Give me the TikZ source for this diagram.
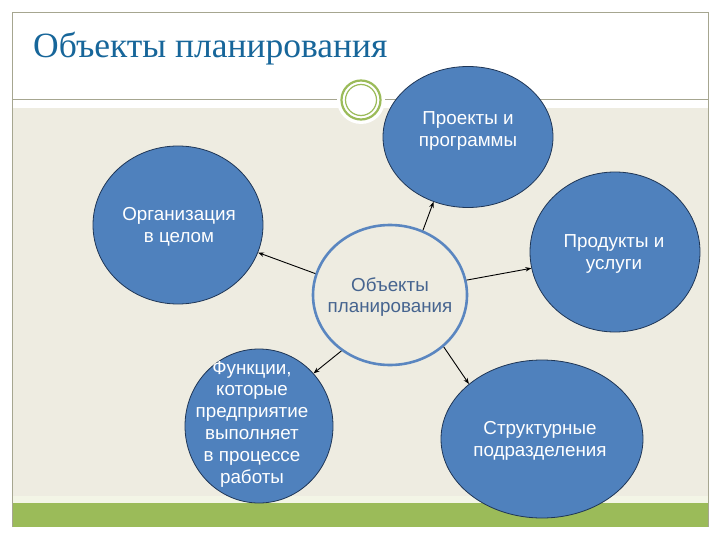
\documentclass[tikz,border=0pt]{standalone}
\usepackage{fontspec}
\setmainfont{Liberation Sans}
\newfontfamily\titlefont{Liberation Serif}
\usetikzlibrary{shapes.geometric,arrows.meta}
\definecolor{bluefill}{HTML}{4F81BD}
\definecolor{blueedge}{HTML}{1F3656}
\definecolor{beige}{HTML}{EEECE1}
\definecolor{olive}{HTML}{9BBB59}
\definecolor{frameline}{HTML}{A6A690}
\definecolor{titleblue}{HTML}{17669A}
\definecolor{centertext}{HTML}{46648F}
\definecolor{ringblue}{HTML}{5A86C0}
\definecolor{stripe}{HTML}{F3F5E6}
\tikzset{
  bubble/.style={ellipse, draw=blueedge, line width=0.8pt, fill=bluefill, inner sep=0pt},
  bubbletext/.style={text=white, align=center, font=\fontsize{18.8}{21.8}\selectfont, inner sep=0pt},
  conn/.style={-{Stealth[length=6pt,width=4.5pt]}, line width=0.9pt, black},
}
\begin{document}
\begin{tikzpicture}[x=1pt,y=-1pt]
\useasboundingbox (0,0) rectangle (720,540);
\fill[white] (0,0) rectangle (720,540);
% background areas
\fill[beige] (12,108) rectangle (708,496);
\fill[stripe] (12,496) rectangle (708,503);
\fill[olive] (12,503) rectangle (708,527);
% frame lines
\draw[frameline, line width=1pt] (12,527) -- (12,13) -- (708,13) -- (708,527);
\draw[frameline, line width=1pt] (12,100) -- (708,100);
% title
\node[anchor=base west, inner sep=0pt, text=titleblue, font=\titlefont\fontsize{35.5}{40}\selectfont] (title) at (33,58) {Объекты планирования};
% ring ornament
\node[circle, fill=white, minimum size=48pt, inner sep=0pt] (ringbg) at (361,100) {};
\node[circle, draw=olive, line width=2.2pt, minimum size=39pt, inner sep=0pt] (ringout) at (361,100) {};
\node[circle, draw=olive, line width=1.2pt, minimum size=31pt, inner sep=0pt] (ringin) at (361,100) {};
% bubbles
\node[bubble, minimum width=170pt, minimum height=141pt] (proj) at (468,137) {};
\node[bubble, minimum width=170pt, minimum height=158pt] (org) at (178,225) {};
\node[bubble, minimum width=170pt, minimum height=160pt] (prod) at (615,252) {};
\node[bubble, minimum width=148pt, minimum height=154pt] (func) at (259,426) {};
\node[bubble, minimum width=202pt, minimum height=158pt] (struct) at (542,439) {};
\node[ellipse, draw=ringblue, line width=2.6pt, fill=beige, minimum width=154pt, minimum height=140pt, inner sep=0pt] (center) at (390,295) {};
% texts
\node[bubbletext] (projt) at (468,131) {Проекты и\\программы};
\node[bubbletext] (orgt) at (179,227) {Организация\\в целом};
\node[bubbletext] (prodt) at (614,254) {Продукты и\\услуги};
\node[bubbletext] (funct) at (252,424) {Функции,\\которые\\предприятие\\выполняет\\в процессе\\работы};
\node[bubbletext] (structt) at (540,441) {Структурные\\подразделения};
\node[bubbletext, text=centertext] (centert) at (390,297) {Объекты\\планирования};
% connectors
\draw[conn] (center.164) -- (org.-19);
\draw[conn] (center.63) -- (proj.242);
\draw[conn] (center.11) -- (prod.191);
\draw[conn] (center.229) -- (func.44);
\draw[conn] (center.-44) -- (struct.143);
\end{tikzpicture}
\end{document}
